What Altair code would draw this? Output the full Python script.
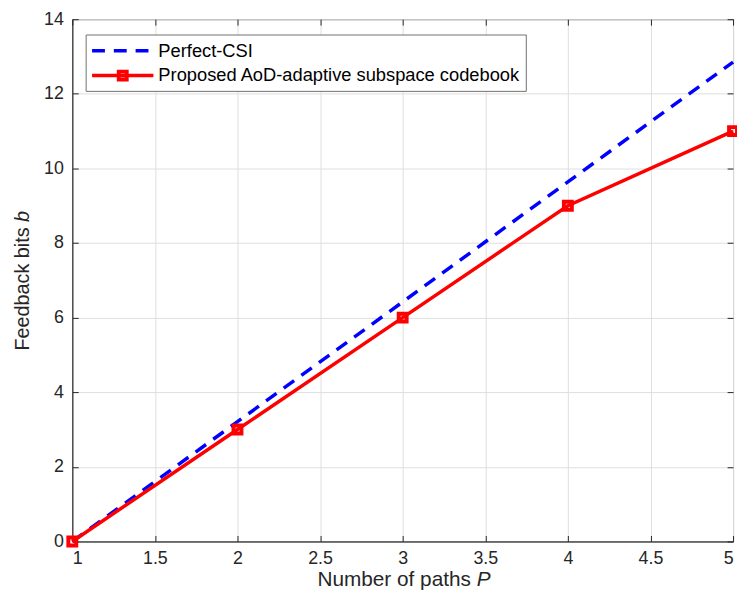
import altair as alt
import pandas as pd

# ---- data ----
paths = [1, 2, 3, 4, 5]
perfect_csi = [0, 3.21, 6.42, 9.64, 12.85]
proposed = [0, 3, 6, 9, 11]
series_names = ["Perfect-CSI", "Proposed AoD-adaptive subspace codebook"]
x_ticks = [1, 1.5, 2, 2.5, 3, 3.5, 4, 4.5, 5]
y_ticks = [0, 2, 4, 6, 8, 10, 12, 14]
x_title = ["Number of paths", "P"]
y_title = ["Feedback bits", "b"]

df_blue = pd.DataFrame({"P": paths, "b": perfect_csi})
df_red = pd.DataFrame({"P": paths, "b": proposed})
one = pd.DataFrame({"a": [0]})

W, H = 668, 528
FONT = "Liberation Sans"
AX = "#262626"
TICKFS = 18
TITLEFS = 21

xs = alt.Scale(domain=[1, 5], nice=False, zero=False)
ys = alt.Scale(domain=[0, 14], nice=False, zero=False)

main_x = alt.Axis(values=x_ticks, format=".1~f", title=None, grid=True, gridColor="#dfdfdf",
                  gridWidth=1, ticks=False, tickSize=0, domain=True, domainColor=AX, domainWidth=1,
                  labelFont=FONT, labelFontSize=TICKFS, labelColor=AX, labelPadding=8, orient="bottom")
main_y = alt.Axis(values=y_ticks, format="d", title=None, grid=True, gridColor="#dfdfdf",
                  gridWidth=1, ticks=False, tickSize=0, domain=True, domainColor=AX, domainWidth=1,
                  labelFont=FONT, labelFontSize=TICKFS, labelColor=AX, labelPadding=9, orient="left")


def tick_axis(vals, orient):
    return alt.Axis(values=vals, title=None, grid=False, labels=False, domain=False, ticks=True,
                    tickSize=6, tickColor=AX, tickWidth=1, offset=-6, orient=orient)


blue = alt.Chart(df_blue).mark_line(color="#0000ff", strokeWidth=3.5, strokeDash=[13, 9]).encode(
    x=alt.X("P:Q", scale=xs, axis=main_x),
    y=alt.Y("b:Q", scale=ys, axis=main_y),
)
red = alt.Chart(df_red).mark_line(color="#ff0000", strokeWidth=3.5).encode(
    x=alt.X("P:Q", scale=xs, axis=tick_axis(x_ticks, "bottom")),
    y=alt.Y("b:Q", scale=ys, axis=tick_axis(y_ticks, "left")),
)
red_pts = alt.Chart(df_red).mark_point(shape="square", size=64, filled=False, color="#ff0000",
                                       strokeWidth=4, opacity=1, clip=False).encode(
    x=alt.X("P:Q", scale=xs, axis=tick_axis(x_ticks, "top")),
    y=alt.Y("b:Q", scale=ys, axis=tick_axis(y_ticks, "right")),
)

# ---- legend (decoration) ----
leg_box = alt.Chart(one).mark_rect(fill="white", stroke="#707070", strokeWidth=1).encode(
    x=alt.value(14), x2=alt.value(459), y=alt.value(16), y2=alt.value(73))
leg_blue = alt.Chart(one).mark_rule(color="#0000ff", strokeWidth=3.5, strokeDash=[13, 9]).encode(
    x=alt.value(20), x2=alt.value(82), y=alt.value(32))
leg_red = alt.Chart(one).mark_rule(color="#ff0000", strokeWidth=3.5).encode(
    x=alt.value(20), x2=alt.value(82), y=alt.value(57))
leg_sq = alt.Chart(one).mark_point(shape="square", size=64, filled=False, color="#ff0000",
                                   strokeWidth=4, opacity=1).encode(x=alt.value(51), y=alt.value(57))
leg_t1 = alt.Chart(one).mark_text(align="left", baseline="middle", font=FONT, fontSize=18.5,
                                  color="black").encode(x=alt.value(87), y=alt.value(32),
                                                        text=alt.value(series_names[0]))
leg_t2 = alt.Chart(one).mark_text(align="left", baseline="middle", font=FONT, fontSize=18.5,
                                  color="black").encode(x=alt.value(87), y=alt.value(57),
                                                        text=alt.value(series_names[1]))

# ---- axis titles (manual to allow italic variable) ----
xt1 = alt.Chart(one).mark_text(align="right", baseline="alphabetic", font=FONT, fontSize=TITLEFS,
                               color=AX).encode(x=alt.value(403), y=alt.value(573),
                                                text=alt.value(x_title[0]))
xt2 = alt.Chart(one).mark_text(align="left", baseline="alphabetic", font=FONT, fontSize=TITLEFS,
                               fontStyle="italic", color=AX).encode(x=alt.value(409), y=alt.value(573),
                                                                    text=alt.value(x_title[1]))
yt1 = alt.Chart(one).mark_text(align="left", baseline="middle", font=FONT, fontSize=20, angle=270,
                               color=AX).encode(x=alt.value(-50), y=alt.value(335),
                                                text=alt.value(y_title[0]))
yt2 = alt.Chart(one).mark_text(align="left", baseline="middle", font=FONT, fontSize=20, angle=270,
                               fontStyle="italic", color=AX).encode(x=alt.value(-50), y=alt.value(205),
                                                                    text=alt.value(y_title[1]))

chart = alt.layer(blue, red, red_pts, leg_box, leg_blue, leg_red, leg_sq, leg_t1, leg_t2,
                  xt1, xt2, yt1, yt2).resolve_axis(x="independent", y="independent").properties(
    width=W, height=H,
    autosize=alt.AutoSizeParams(type="none"),
    padding={"left": 65, "top": 8, "right": 4, "bottom": 66},
    background="white",
).configure_view(stroke=AX, strokeWidth=1)

chart.save("out.html", embed_options={"renderer": "svg", "actions": False})
